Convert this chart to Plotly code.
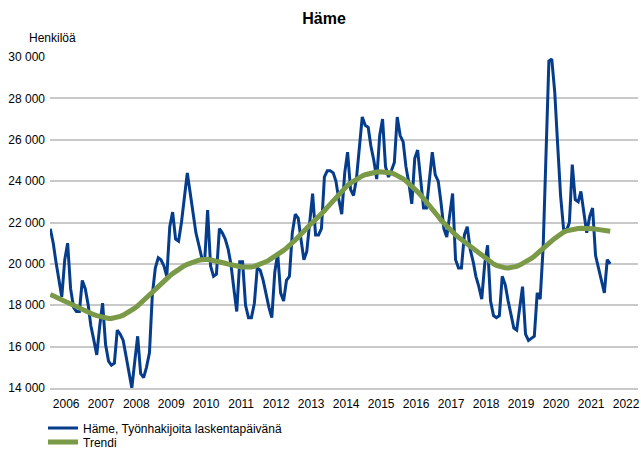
import plotly.graph_objects as go
import pandas as pd

# Monthly data Jan 2006 - Jan 2022
months = pd.date_range("2006-01-01", periods=193, freq="MS")

jobseekers = [
    21700, 21000, 20100, 19200, 18400, 20200, 21000, 18800, 17900, 17700, 17700, 19200,  # 2006
    18800, 18000, 17000, 16300, 15600, 17000, 18100, 16100, 15300, 15100, 15200, 16800,  # 2007
    16600, 16300, 15600, 14900, 14000, 15300, 16500, 14700, 14500, 15000, 15700, 18500,  # 2008
    19800, 20300, 20200, 19900, 19400, 21800, 22500, 21200, 21100, 22000, 23300, 24400,  # 2009
    23400, 22500, 21500, 20900, 20300, 20200, 22600, 19900, 19400, 19500, 21700, 21500,  # 2010
    21200, 20700, 20000, 18800, 17700, 20100, 20100, 18000, 17400, 17400, 18100, 19800,  # 2011
    19700, 19200, 18500, 17900, 17400, 19600, 20500, 18600, 18200, 19200, 19400, 21500,  # 2012
    22400, 22200, 21200, 20200, 20600, 21900, 23400, 21400, 21400, 21700, 24200, 24500,  # 2013
    24500, 24400, 24000, 23100, 22400, 24400, 25400, 23600, 23300, 24100, 25500, 27100,  # 2014
    26700, 26600, 25700, 25000, 24100, 26200, 27000, 24700, 24200, 24500, 24900, 27100,  # 2015
    26200, 25900, 24700, 23900, 22900, 25100, 25500, 23900, 22700, 22700, 24200, 25400,  # 2016
    24300, 24000, 23000, 21700, 21300, 22400, 23400, 20200, 19800, 19800, 21400, 21800,  # 2017
    20700, 20100, 19400, 18900, 18300, 20000, 20900, 18200, 17500, 17400, 17500, 19400,  # 2018
    19000, 18200, 17500, 16900, 16800, 17900, 18900, 16600, 16300, 16400, 16500, 18600,  # 2019
    18300, 20800, 24800, 29800, 29900, 28300, 25800, 23300, 21700, 21600, 22000, 24800,  # 2020
    23100, 23000, 23500, 22400, 21500, 22300, 22700, 20400, 19800, 19100, 18600, 20200,  # 2021
    20000,                                                                               # 2022
]

trend = [
    18520, 18450, 18380, 18320, 18250, 18180, 18120, 18050, 17980, 17900, 17840, 17760,
    17690, 17630, 17580, 17540, 17500, 17450, 17410, 17380, 17360, 17360, 17380, 17410,
    17460, 17520, 17590, 17670, 17760, 17860, 17970, 18090, 18220, 18350, 18480, 18620,
    18760, 18900, 19040, 19170, 19300, 19420, 19530, 19640, 19740, 19830, 19910, 19980,
    20040, 20100, 20140, 20180, 20200, 20220, 20220, 20190, 20170, 20140, 20110, 20070,
    20030, 19990, 19950, 19920, 19890, 19870, 19850, 19840, 19840, 19850, 19880, 19920,
    19970, 20030, 20100, 20180, 20260, 20350, 20450, 20550, 20650, 20760, 20870, 20990,
    21150, 21300, 21450, 21600, 21750, 21880, 22000, 22130, 22270, 22420, 22570, 22730,
    22890, 23050, 23220, 23380, 23530, 23670, 23800, 23910, 24010, 24100, 24180, 24250,
    24310, 24360, 24400, 24420, 24440, 24450, 24450, 24440, 24420, 24390, 24340, 24280,
    24200, 24110, 24010, 23890, 23760, 23630, 23480, 23330, 23170, 23010, 22830, 22650,
    22470, 22290, 22120, 21960, 21800, 21660, 21520, 21400, 21280, 21170, 21060, 20940,
    20830, 20720, 20610, 20500, 20390, 20280, 20180, 20080, 20000, 19930, 19870, 19830,
    19810, 19800, 19810, 19840, 19880, 19940, 20010, 20080, 20160, 20260, 20370, 20480,
    20610, 20740, 20870, 20990, 21110, 21230, 21340, 21440, 21530, 21600, 21640, 21670,
    21690, 21710, 21720, 21730, 21730, 21720, 21700, 21680, 21670, 21650, 21630, 21610,
    21580,
]

years = list(range(2006, 2023))
year_labels = [str(y) for y in years]
year_tick_dates = [f"{y}-06-16" for y in years]

y_ticks = [14000, 16000, 18000, 20000, 22000, 24000, 26000, 28000, 30000]
y_tick_labels = ["14 000", "16 000", "18 000", "20 000", "22 000",
                 "24 000", "26 000", "28 000", "30 000"]

series_name = "Häme, Työnhakijoita laskentapäivänä"
trend_name = "Trendi"

BLUE = "#053d8c"
GREEN = "#7a9a47"
GRID = "#c9c9c9"

fig = go.Figure()
fig.add_trace(go.Scatter(
    x=months, y=jobseekers, mode="lines", name=series_name,
    line=dict(color=BLUE, width=3), legend="legend",
))
fig.add_trace(go.Scatter(
    x=months, y=trend, mode="lines", name=trend_name,
    line=dict(color=GREEN, width=5), legend="legend2",
))

fig.update_layout(
    width=641, height=450,
    margin=dict(l=50, r=3, t=57, b=62, autoexpand=False),
    paper_bgcolor="white", plot_bgcolor="white",
    font=dict(family="Arial, Liberation Sans, sans-serif", size=12, color="#000000"),
    title=dict(text="<b>Häme</b>", x=324 / 641, xref="container", xanchor="center",
               y=1 - 18 / 450, yref="container", yanchor="middle",
               font=dict(size=16, color="#000000")),
    showlegend=True,
    legend=dict(x=43 / 641, xref="container", xanchor="left",
                y=1 - 428 / 450, yref="container", yanchor="middle",
                bgcolor="rgba(0,0,0,0)", font=dict(size=12)),
    legend2=dict(x=43 / 641, xref="container", xanchor="left",
                 y=1 - 442 / 450, yref="container", yanchor="middle",
                 bgcolor="rgba(0,0,0,0)", font=dict(size=12)),
    annotations=[dict(text="Henkilöä", xref="paper", yref="paper",
                      x=(27 - 50) / 588, y=(388 - 38) / 331,
                      xanchor="left", yanchor="middle", showarrow=False,
                      font=dict(size=12))],
)

fig.update_xaxes(
    type="date", range=["2005-12-29", "2022-10-18"],
    tickvals=year_tick_dates, ticktext=year_labels, tickangle=0,
    showgrid=False, zeroline=False, ticks="",
    showline=True, linecolor=GRID, linewidth=1.5,
    tickfont=dict(size=12), ticklabelstandoff=4,
)
fig.update_yaxes(
    range=[14000, 30000], tickvals=y_ticks, ticktext=y_tick_labels,
    showgrid=True, gridcolor=GRID, gridwidth=1.5,
    zeroline=False, ticks="", showline=False,
    tickfont=dict(size=12), ticklabelstandoff=4,
)

fig.write_html("out.html",
               config={"displayModeBar": False},
               post_script="document.body.style.margin='0';document.body.style.overflow='hidden';")
